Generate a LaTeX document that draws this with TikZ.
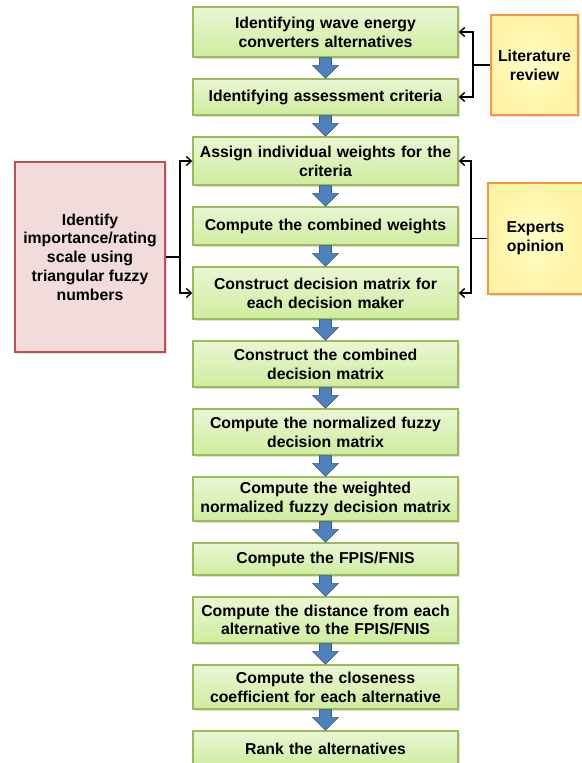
\documentclass[tikz,border=0pt]{standalone}
\usepackage{fontspec}
\setmainfont{Liberation Sans}
\usetikzlibrary{positioning, arrows.meta, calc, shadows}
\definecolor{steptop}{RGB}{234,246,212}
\definecolor{stepbot}{RGB}{208,236,158}
\definecolor{stepedge}{RGB}{155,187,89}
\definecolor{pinkfill}{RGB}{242,220,219}
\definecolor{pinkedge}{RGB}{192,80,77}
\definecolor{srcin}{RGB}{255,255,200}
\definecolor{srcout}{RGB}{255,243,165}
\definecolor{srcedge}{RGB}{247,150,70}
\definecolor{flowblue}{RGB}{79,129,189}
\definecolor{flowedge}{RGB}{56,93,138}

\newcommand{\flowarrow}[2]{%
  \filldraw[blockarrow] ($(#1.south)+(-6,0)$) -- ($(#2.north)+(-6,-13)$)
    -- ($(#2.north)+(-13,-13)$) -- (#2.north) -- ($(#2.north)+(13,-13)$)
    -- ($(#2.north)+(6,-13)$) -- ($(#1.south)+(6,0)$) -- cycle;}

\begin{document}
\begin{tikzpicture}[x=1pt, y=-1pt,
  font=\bfseries\fontsize{15.8}{18.8}\selectfont,
  every node/.style={inner sep=3pt},
  node distance=20.6pt,
  stepbox/.style={draw=stepedge, line width=1.4pt, top color=steptop,
    bottom color=stepbot, text width=259pt, align=center,
    drop shadow={opacity=0.25, shadow xshift=1.5pt, shadow yshift=-1.5pt}},
  scalebox/.style={draw=pinkedge, line width=1.4pt, fill=pinkfill,
    minimum width=150pt, minimum height=190pt, align=center,
    drop shadow={opacity=0.25, shadow xshift=1.5pt, shadow yshift=-1.5pt}},
  srcbox/.style={draw=srcedge, line width=1.4pt, shading=radial,
    inner color=srcin, outer color=srcout, align=center,
    drop shadow={opacity=0.25, shadow xshift=1.5pt, shadow yshift=-1.5pt}},
  blockarrow/.style={fill=flowblue, draw=flowedge, line width=0.6pt},
  link/.style={-{Straight Barb[length=5pt, width=9pt, line width=1.4pt]},
    line width=1.8pt, black}]
\useasboundingbox (0,0) rectangle (581,763);

% main steps
\node[stepbox, minimum height=50pt] (wec) at (325.5,32)
  {Identifying wave energy\\converters alternatives};
\node[stepbox, minimum height=36pt, below=of wec] (crit)
  {Identifying assessment criteria};
\node[stepbox, minimum height=48pt, below=of crit] (indw)
  {Assign individual weights for the\\criteria};
\node[stepbox, minimum height=38pt, below=of indw] (comw)
  {Compute the combined weights};
\node[stepbox, minimum height=52pt, below=of comw] (dmat)
  {Construct decision matrix for\\each decision maker};
\node[stepbox, minimum height=46pt, below=of dmat] (cmat)
  {Construct the combined\\decision matrix};
\node[stepbox, minimum height=46pt, below=of cmat] (nmat)
  {Compute the normalized fuzzy\\decision matrix};
\node[stepbox, minimum height=44pt, below=of nmat] (wmat)
  {Compute the weighted\\normalized fuzzy decision matrix};
\node[stepbox, minimum height=32pt, below=of wmat] (fpis)
  {Compute the FPIS/FNIS};
\node[stepbox, minimum height=46pt, below=of fpis] (dist)
  {Compute the distance from each\\alternative to the FPIS/FNIS};
\node[stepbox, minimum height=44pt, below=of dist] (clos)
  {Compute the closeness\\coefficient for each alternative};
\node[stepbox, minimum height=36pt, below=of clos] (rank)
  {Rank the alternatives};

% side inputs
\node[scalebox] (scale) at (90,257)
  {Identify\\importance/rating\\scale using\\triangular fuzzy\\numbers};
\node[srcbox, minimum width=87pt, minimum height=100pt] (lit) at (534.5,65)
  {Literature\\review};
\node[srcbox, minimum width=95pt, minimum height=111pt] (expert) at (535.5,238.5)
  {Experts\\opinion};

% block arrows
\foreach \a/\b in {wec/crit, crit/indw, indw/comw, comw/dmat, dmat/cmat,
  cmat/nmat, nmat/wmat, wmat/fpis, fpis/dist, dist/clos, clos/rank}
  {\flowarrow{\a}{\b}}

% connectors
\coordinate (litj) at ($(lit.west)+(-17,0)$);
\coordinate (expj) at ($(expert.west)+(-16,0)$);
\coordinate (scalej) at ($(scale.east)+(14,0)$);
\draw[line width=1.8pt] (lit.west) -- (litj);
\draw[link] (litj) |- (wec.east);
\draw[link] (litj) |- (crit.east);
\draw[line width=1.8pt] (expert.west) -- (expj);
\draw[link] (expj) |- (indw.east);
\draw[link] (expj) |- (dmat.east);
\draw[line width=1.8pt] (scale.east) -- (scalej);
\draw[link] (scalej) |- (indw.west);
\draw[link] (scalej) |- (dmat.west);
\end{tikzpicture}
\end{document}
